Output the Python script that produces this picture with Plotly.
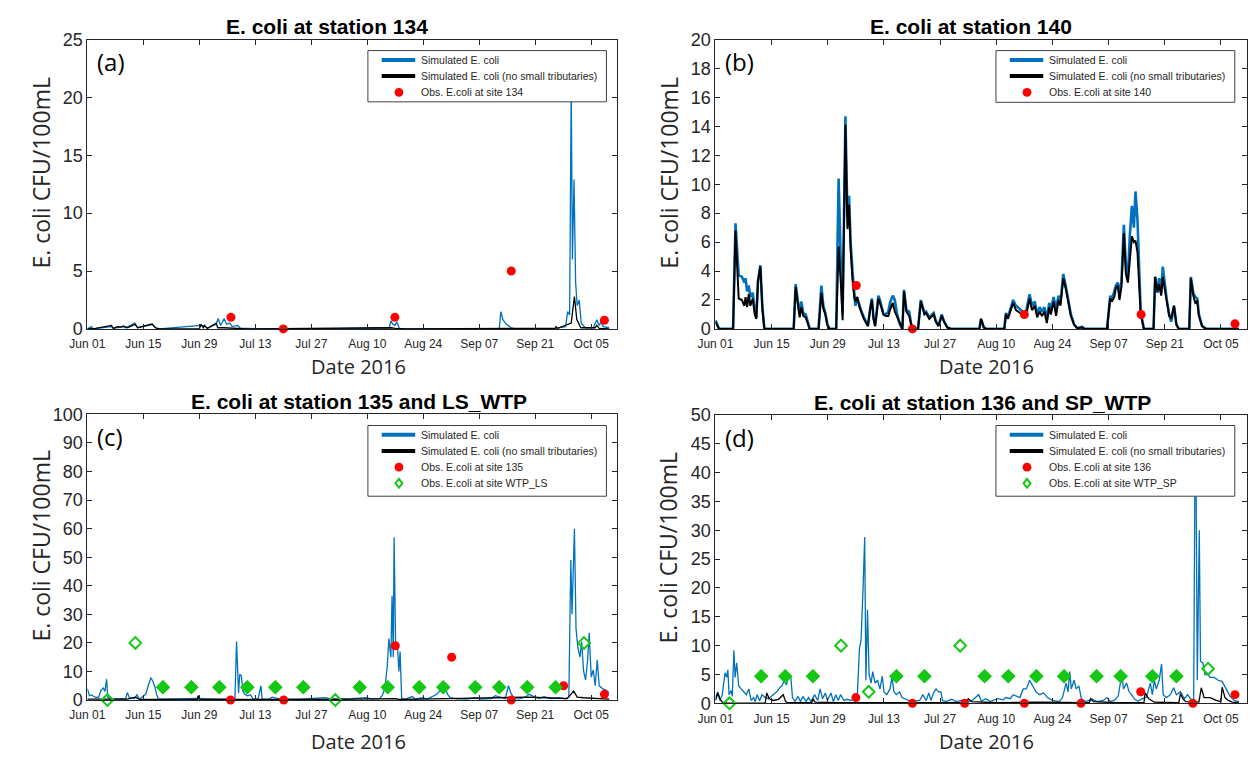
import plotly.graph_objects as go
import pandas as pd

START = "2016-06-01"
W, H = 1253, 763

# ---------------- Panel (a): station 134 ----------------
A_SIM_DAY = [0, 1.0, 1.5, 3.0, 6.0, 6.5, 9.0, 9.5, 11.9, 12.5, 16.2, 17.0, 18.0, 28.4, 29.3, 30.0, 32.2, 32.7,
             33.3, 34.2, 34.8, 35.6, 36.2, 37.6, 38.3, 40.0, 45.0, 60.0, 75.5, 75.9, 76.4, 76.9, 77.4, 78.0,
             80.0, 103.0, 103.4, 103.9, 104.8, 106.0, 107.0, 117.0, 119.6, 120.1, 120.6, 121.0, 121.3, 121.7,
             122.1, 122.5, 123.0, 123.5, 124.5, 126.5, 127.4, 128.0, 128.4, 129.0, 130.5]
A_SIM_VAL = [0, 0.2, 0, 0.05, 0.2, 0.05, 0.2, 0.1, 0.5, 0.1, 0.45, 0.1, 0, 0.3, 0.25, 0.05, 0.4, 0.9,
             0.3, 0.9, 0.4, 0.5, 0.2, 0.3, 0.05, 0.05, 0, 0, 0.1, 0.7, 0.4, 0.3, 0.6, 0.05,
             0, 0, 1.5, 0.8, 0.4, 0.1, 0, 0.05, 0.2, 1.5, 1.2, 21.0, 6.0, 12.9,
             4.0, 2.0, 2.5, 0.5, 0.1, 0.1, 0.8, 0.3, 0.6, 0.2, 0.1]
A_NT_DAY = [0, 2.0, 6.0, 6.5, 7.5, 8.5, 9.0, 10.0, 11.9, 12.6, 16.2, 17.0, 18.0, 28.0, 28.4, 29.0, 29.3, 30.0,
            32.2, 32.6, 34.0, 36.0, 40.0, 76.0, 77.0, 80.0, 117.0, 117.2, 117.6, 121.0, 121.8, 122.4, 123.4,
            127.0, 127.4, 128.0, 130.5]
A_NT_VAL = [0, 0.05, 0.3, 0.05, 0.2, 0.15, 0.25, 0.1, 0.4, 0.1, 0.4, 0.1, 0, 0, 0.4, 0.1, 0.3, 0.05,
            0.5, 0.1, 0.1, 0.05, 0, 0.1, 0.05, 0, 0.05, 0.2, 0.05, 0.5, 2.8, 0.8, 0.1,
            0.1, 0.3, 0.05, 0]
A_OBS_DAY = [35.9, 49.0, 76.9, 106.0, 129.3]
A_OBS_VAL = [1.0, 0.0, 1.0, 5.0, 0.75]

# ---------------- Panel (b): station 140 ----------------
B_DAY = [0, 0.9, 4.4, 5.0, 5.8, 6.6, 7.2, 7.5, 7.9, 8.3, 8.7, 9.3, 9.8, 10.2, 10.6, 11.2, 11.7, 12.2,
         19.5, 20.0, 20.6, 21.0, 21.4, 21.9, 22.5, 23.0, 23.5, 25.7, 26.4, 26.9, 27.4, 27.9, 28.4,
         30.1, 30.7, 31.3, 31.7, 32.4, 32.9, 33.3, 33.7, 34.2, 34.6, 34.9, 35.3, 35.9, 36.4, 37.0, 37.6,
         38.0, 38.6, 39.0, 39.4, 39.8, 40.2, 40.6, 41.0, 41.5, 41.9, 42.4, 43.1, 43.5, 44.2, 44.7, 45.3,
         46.0, 46.6, 47.0, 47.6, 48.3, 48.8, 49.6, 50.5, 51.2, 52.1, 52.5, 53.3, 54.4, 54.9, 55.6, 56.4,
         57.0, 57.8, 58.7, 65.8, 66.2, 66.9, 67.5, 72.0, 72.4, 72.9, 74.2, 74.9, 75.4, 76.3, 76.9, 77.5,
         78.3, 78.9, 79.6, 80.2, 80.8, 81.4, 82.0, 82.6, 83.2, 83.6, 84.3, 84.9, 85.5, 86.0, 86.7, 87.3,
         87.9, 88.6, 89.4, 90.2, 91.4, 92.0, 97.6, 98.4, 98.8, 99.4, 99.8, 100.3, 100.7, 101.2, 101.8,
         102.3, 102.8, 103.3, 103.8, 104.3, 104.7, 105.2, 105.6, 106.0, 106.8, 109.2, 109.6, 110.2,
         110.6, 111.1, 111.5, 112.1, 112.5, 113.1, 113.6, 114.3, 114.9, 115.5, 118.1, 118.5, 119.1,
         119.6, 120.1, 120.5, 121.3, 122.3, 130.5]
B_SIM_VAL = [0.6, 0, 0, 7.3, 3.7, 3.6, 3.2, 3.5, 2.6, 3.0, 2.2, 2.5, 1.3, 0.8, 3.3, 4.4, 1.5, 0,
             0, 3.1, 1.8, 1.0, 1.9, 1.1, 1.0, 0.5, 0, 0, 3.0, 1.6, 1.1, 0.3, 0,
             0, 10.4, 4.0, 1.0, 14.7, 7.7, 9.2, 6.0, 3.8, 2.5, 1.6, 2.2, 1.6, 1.2, 0.8, 0.4,
             0.2, 1.5, 2.1, 0.8, 0.2, 1.2, 2.3, 2.0, 1.5, 1.0, 1.0, 1.2, 1.8, 2.3, 2.0, 1.0,
             0.3, 0, 2.7, 1.3, 1.2, 0.3, 0, 0, 2.0, 1.1, 1.2, 0.8, 1.1, 0.6, 0.2, 1.0,
             0.5, 0.1, 0, 0, 0.7, 0.1, 0, 0, 1.1, 0.8, 2.0, 1.6, 1.5, 1.3, 1.1, 1.3,
             2.4, 1.6, 1.9, 1.0, 1.5, 1.2, 1.5, 0.7, 1.8, 1.3, 2.2, 1.3, 2.3, 1.8, 3.8, 3.0,
             2.0, 1.0, 0.3, 0.05, 0.15, 0, 0, 2.3, 2.0, 2.7, 3.0, 3.2, 2.4, 3.3, 7.2,
             4.5, 3.5, 6.5, 8.5, 7.0, 9.5, 7.5, 4.5, 1.2, 0, 0, 3.6, 2.5,
             3.5, 2.5, 4.3, 2.8, 2.0, 1.0, 0.5, 1.6, 0.3, 0, 0, 3.6, 2.5,
             2.2, 2.1, 1.0, 0.2, 0, 0]
B_NT_VAL = [0.5, 0, 0, 6.8, 2.1, 2.0, 1.6, 2.2, 1.5, 2.4, 1.6, 2.1, 1.0, 0.7, 3.3, 4.3, 1.4, 0,
            0, 2.9, 1.6, 0.8, 1.5, 0.9, 0.8, 0.4, 0, 0, 2.5, 1.4, 1.0, 0.3, 0,
            0, 5.7, 3.0, 0.6, 14.1, 6.9, 8.6, 5.5, 3.3, 2.2, 1.9, 2.2, 1.5, 1.1, 0.7, 0.4,
            0.2, 1.4, 2.0, 0.7, 0.2, 1.1, 2.1, 1.8, 1.3, 1.0, 0.9, 0.9, 1.3, 1.8, 1.2, 0.8,
            0.3, 0, 2.6, 1.2, 0.9, 0.3, 0, 0, 1.9, 1.0, 1.1, 0.7, 1.0, 0.5, 0.2, 0.9,
            0.5, 0.1, 0, 0, 0.7, 0.1, 0, 0, 1.0, 0.7, 1.8, 1.3, 1.2, 1.0, 0.9, 1.0,
            2.1, 1.3, 1.6, 0.8, 1.2, 0.9, 1.2, 0.4, 1.5, 1.0, 1.9, 0.9, 2.0, 1.6, 3.5, 2.8,
            1.8, 0.9, 0.3, 0.05, 0.1, 0, 0, 2.1, 1.9, 2.2, 2.8, 3.0, 2.0, 2.9, 6.6,
            3.8, 3.2, 5.0, 6.4, 6.0, 6.1, 5.3, 3.4, 1.0, 0, 0, 3.6, 2.6,
            3.1, 2.3, 3.6, 2.6, 1.8, 0.9, 0.7, 1.6, 0.3, 0, 0, 3.5, 2.3,
            1.8, 1.9, 0.9, 0.2, 0, 0]
B_OBS_DAY = [35.1, 49.1, 77.0, 106.1, 129.5]
B_OBS_VAL = [3.0, 0.0, 1.0, 1.0, 0.35]

# ---------------- Panel (c): station 135 and LS_WTP ----------------
C_SIM_DAY = [0, 0.5, 1.1, 1.9, 2.8, 3.4, 4.0, 4.4, 4.8, 5.1, 5.6, 6.9, 8.5, 9.5, 10.0, 10.5, 11.8, 12.4, 13.0,
             13.8, 14.6, 15.2, 15.9, 16.4, 16.9, 17.3, 17.7, 18.3, 20.8, 22.4, 24.9, 27.7, 30.6, 33.1, 35.6,
             36.9, 37.3, 37.8, 38.1, 38.5, 38.9, 39.4, 40.0, 40.8, 41.5, 42.7, 43.4, 43.7, 45.4, 46.2, 47.8,
             49.5, 53.0, 56.0, 59.6, 61.0, 63.7, 66.0, 69.8, 71.0, 73.1, 73.7, 74.4, 75.0, 75.4, 75.9, 76.2,
             76.5, 76.7, 77.1, 77.5, 77.9, 78.2, 78.6, 79.5, 81.3, 82.0, 83.8, 85.0, 87.4, 88.3, 88.9, 89.5,
             90.1, 90.7, 92.4, 94.8, 96.9, 98.5, 101.0, 102.0, 103.0, 104.5, 105.3, 105.9, 106.7, 108.0,
             109.5, 110.5, 111.9, 113.0, 114.2, 116.0, 118.0, 119.5, 120.4, 120.9, 121.2, 121.5, 121.8,
             122.2, 122.7, 123.2, 123.6, 124.1, 124.6, 125.1, 125.5, 126.0, 126.5, 127.0, 127.5, 128.0,
             128.8, 129.7, 130.5]
C_SIM_VAL = [4.0, 1.5, 1.8, 1.0, 0.9, 3.5, 4.2, 3.0, 7.3, 1.0, 0.5, 0.3, 0.5, 0.3, 2.6, 0.8, 0.5, 1.8, 0.3,
             1.2, 2.0, 5.0, 7.8, 6.5, 4.5, 2.0, 0.5, 0.3, 0.4, 0.6, 0.5, 0.6, 0.4, 0.3, 0.5,
             0.5, 20.5, 2.5, 9.0, 8.5, 3.0, 2.0, 1.5, 1.8, 0.3, 0.5, 5.0, 0.3, 0.3, 1.0, 0.5,
             0.3, 0.3, 0.5, 0.8, 0.3, 0.3, 0.5, 0.8, 0.3, 0.5, 1.5, 4.0, 12.0, 21.5, 15.0, 36.5,
             15.0, 57.0, 18.0, 20.0, 10.0, 17.0, 0.5, 0.3, 1.2, 0.3, 0.8, 0.3, 2.0, 3.5, 2.5, 4.0,
             2.0, 0.8, 0.4, 0.3, 0.8, 0.3, 0.5, 1.5, 1.0, 0.5, 5.0, 2.5, 0.5, 0.4,
             1.0, 2.0, 1.0, 0.5, 1.2, 0.5, 0.8, 0.5, 1.0, 49.0, 30.0, 50.0, 60.0,
             25.0, 18.0, 15.0, 20.5, 10.0, 7.0, 14.0, 23.5, 8.0, 10.5, 5.0, 14.0, 5.0,
             4.0, 3.5, 2.5]
C_NT_DAY = [0, 5.0, 10.0, 12.0, 13.0, 20.0, 27.5, 27.7, 28.0, 40.0, 60.0, 77.0, 78.0, 90.0, 106.0, 110.0,
            115.0, 120.0, 121.6, 122.5, 124.0, 127.0, 130.5]
C_NT_VAL = [0.3, 0.2, 0.3, 1.0, 0.2, 0.2, 0.2, 1.5, 0.2, 0.2, 0.2, 0.5, 0.2, 0.5, 0.8, 1.0,
            0.8, 0.5, 3.1, 1.0, 0.8, 0.5, 0.3]
C_OBS_DAY = [35.8, 49.1, 77.0, 91.1, 106.0, 119.1, 129.3]
C_OBS_VAL = [0.0, 0.0, 19.0, 15.0, 0.0, 5.0, 2.0]
C_WTP_DAY = [5.0, 12.0, 18.9, 26.0, 33.0, 40.0, 47.0, 54.0, 62.0, 68.1, 75.1, 83.0, 89.0, 97.0, 103.0,
             110.0, 117.1, 124.2]
C_WTP_VAL = [0, 20, 4.5, 4.5, 4.5, 4.5, 4.5, 4.5, 0, 4.5, 4.5, 4.5, 4.5, 4.5, 4.5, 4.5, 4.5, 20]

# ---------------- Panel (d): station 136 and SP_WTP ----------------
D_SIM_DAY = [0, 0.6, 1.1, 1.7, 2.4, 2.8, 3.1, 3.4, 3.9, 4.2, 4.6, 4.9, 5.3, 5.8, 6.4, 7.1, 7.7, 8.3, 8.9,
             9.5, 9.9, 10.4, 11.0, 11.6, 12.4, 13.2, 14.4, 15.3, 16.1, 16.6, 17.1, 17.7, 18.3, 18.8, 19.2,
             19.8, 20.6, 21.2, 21.8, 22.6, 23.2, 23.8, 24.7, 25.5, 26.1, 26.7, 27.4, 27.9, 28.8, 29.4, 30.0,
             30.6, 31.2, 32.0, 32.9, 33.7, 34.5, 35.3, 35.9, 36.3, 36.8, 37.2, 37.5, 37.9, 38.3, 38.8, 39.2,
             39.8, 40.4, 41.0, 41.6, 42.0, 42.7, 43.5, 44.0, 44.5, 45.1, 45.9, 46.5, 47.2, 48.0, 48.8, 50.9,
             51.7, 52.5, 53.2, 53.7, 54.3, 55.0, 55.6, 56.2, 56.6, 57.4, 58.9, 59.9, 61.5, 62.8, 64.0, 65.6,
             66.3, 67.4, 68.5, 70.4, 71.8, 72.3, 73.5, 74.2, 75.0, 75.9, 76.7, 77.5, 78.3, 79.1, 79.9, 80.8,
             81.8, 82.8, 84.0, 85.7, 86.5, 87.4, 87.9, 88.3, 88.7, 89.4, 89.9, 90.6, 91.2, 92.2, 93.9, 95.1,
             96.7, 97.6, 98.4, 99.6, 100.4, 101.3, 101.7, 102.5, 103.1, 103.7, 104.5, 105.3, 106.4, 107.4,
             108.4, 108.9, 109.4, 109.9, 110.6, 111.2, 111.6, 112.4, 113.4, 114.2, 114.9, 115.9, 116.9,
             117.7, 118.4, 119.2, 119.5, 119.8, 120.1, 120.6, 120.9, 121.5, 122.0, 122.8, 123.3, 124.3,
             125.3, 126.3, 126.8, 127.3, 128.3, 129.3, 130.5]
D_SIM_VAL = [1.0, 2.0, 0.5, 1.5, 5.3, 4.5, 5.8, 1.5, 2.2, 1.2, 9.2, 4.5, 7.0, 3.0, 2.5, 2.0, 1.5, 2.5, 0.5,
             1.0, 0.3, 1.5, 0.4, 1.5, 1.0, 0.8, 1.5, 2.0, 2.8, 3.0, 4.0, 3.2, 5.0, 4.5, 1.0,
             0.3, 1.2, 0.3, 1.2, 0.3, 1.0, 0.3, 1.5, 0.5, 2.5, 0.8, 1.8, 0.5, 1.8, 0.3, 1.5,
             0.5, 1.5, 0.5, 0.7, 0.5, 0.8, 0.5, 9.5, 11.0, 20.0, 28.8, 4.0, 16.2, 5.0, 3.5, 5.5,
             3.5, 4.0, 2.5, 4.7, 2.0, 1.5, 2.5, 4.5, 2.0, 1.5, 2.0, 1.0, 0.8, 0.5, 0.3, 0.5,
             1.5, 0.5, 1.8, 0.5, 1.7, 2.5, 2.0, 2.0, 0.5, 0.3, 0.7, 0.3, 0.5, 0.3, 0.5, 1.5,
             0.4, 0.8, 0.3, 0.8, 0.6, 1.0, 0.8, 1.5, 1.2, 1.0, 2.5, 2.5, 4.0, 3.0, 2.0, 1.5,
             1.8, 1.0, 0.5, 0.3, 1.0, 3.5, 2.0, 5.5, 2.5, 4.0, 2.5, 3.0, 0.8, 0.3, 0.7, 0.3,
             0.5, 1.0, 0.3, 0.6, 1.3, 5.0, 2.5, 3.5, 2.0, 1.5, 0.7, 0.4, 0.8, 1.0,
             3.5, 1.5, 4.0, 2.5, 4.0, 6.8, 1.5, 1.0, 1.5, 2.7, 1.5, 2.0, 0.8,
             1.5, 0.8, 0.5, 38.0, 38.5, 4.0, 30.0, 7.3, 7.0, 5.0, 5.0, 4.5, 4.5,
             4.0, 3.8, 3.0, 2.5, 1.2, 0.5, 0.3]
D_NT_DAY = [0, 0.6, 1.1, 1.7, 3.0, 12.4, 12.8, 13.4, 14.4, 15.7, 16.9, 17.5, 18.1, 24.0, 24.3, 24.8, 30.0,
            40.0, 50.0, 62.5, 63.0, 63.8, 70.0, 80.0, 93.2, 93.5, 94.2, 100.0, 106.8, 107.1, 108.0, 109.4,
            115.5, 115.9, 116.5, 117.2, 120.5, 121.1, 121.8, 123.3, 124.8, 126.0, 126.3, 127.0, 127.8,
            128.8, 130.5]
D_NT_VAL = [0.5, 1.8, 0.8, 0.2, 0.05, 0.05, 1.8, 0.8, 0.5, 0.7, 1.5, 0.3, 0.1, 0.1, 0.8, 0.2, 0.1,
            0.1, 0.1, 0.1, 0.8, 0.3, 0.1, 0.2, 0.1, 0.8, 0.3, 0.1, 0.1, 1.8, 0.8, 0.2,
            0.1, 1.7, 0.8, 0.3, 0.2, 2.7, 1.0, 1.0, 0.5, 0.3, 2.8, 1.0, 0.5,
            0.2, 0.1]
D_OBS_DAY = [35.0, 49.1, 62.1, 77.0, 91.1, 106.0, 119.0, 129.5]
D_OBS_VAL = [1.0, 0.0, 0.0, 0.0, 0.0, 2.0, 0.0, 1.5]
D_WTP_DAY = [3.5, 11.4, 17.4, 24.3, 31.3, 38.2, 45.1, 52.1, 61.0, 67.1, 73.0, 80.0, 86.9, 95.0, 101.0,
             108.9, 114.9, 122.8]
D_WTP_VAL = [0, 4.7, 4.7, 4.7, 10, 2.0, 4.7, 4.7, 10, 4.7, 4.7, 4.7, 4.7, 4.7, 4.7, 4.7, 4.7, 6.0]

TITLES = ["E. coli at station 134", "E. coli at station 140",
          "E. coli at station 135 and LS_WTP", "E. coli at station 136 and SP_WTP"]
PANEL_TAGS = ["(a)", "(b)", "(c)", "(d)"]
Y_MAX = [25, 20, 100, 50]
Y_STEP = [5, 2, 10, 5]
OBS_NAMES = ["Obs. E.coli at site 134", "Obs. E.coli at site 140",
             "Obs. E.coli at site 135", "Obs. E.coli at site 136"]
WTP_NAMES = [None, None, "Obs. E.coli at site WTP_LS", "Obs. E.coli at site WTP_SP"]
SIM_NAME = "Simulated E. coli"
NT_NAME = "Simulated E. coli (no small tributaries)"
X_LABEL = "Date 2016"
Y_LABEL = "E. coli CFU/100mL"

BLUE = "#0072BD"
BLACK = "#000000"
RED = "#FF0000"
GREEN = "#14C814"
AXC = "#262626"
FONT = "Liberation Sans, Arial"


def dates(days):
    return [pd.Timestamp(START) + pd.to_timedelta(d, unit="D") for d in days]


def px(x):
    return x / W


def py(y):
    return 1 - y / H


panels = [
    dict(sim=(A_SIM_DAY, A_SIM_VAL), nt=(A_NT_DAY, A_NT_VAL), obs=(A_OBS_DAY, A_OBS_VAL), wtp=None, lw=1.3, nlw=1.3),
    dict(sim=(B_DAY, B_SIM_VAL), nt=(B_DAY, B_NT_VAL), obs=(B_OBS_DAY, B_OBS_VAL), wtp=None, lw=2.6, nlw=2.0),
    dict(sim=(C_SIM_DAY, C_SIM_VAL), nt=(C_NT_DAY, C_NT_VAL), obs=(C_OBS_DAY, C_OBS_VAL), wtp=(C_WTP_DAY, C_WTP_VAL), lw=1.3, nlw=1.3),
    dict(sim=(D_SIM_DAY, D_SIM_VAL), nt=(D_NT_DAY, D_NT_VAL), obs=(D_OBS_DAY, D_OBS_VAL), wtp=(D_WTP_DAY, D_WTP_VAL), lw=1.3, nlw=1.3),
]

# pixel geometry of the axes boxes (left, right, top, bottom)
BOXES = [(70.4, 607.6, 30.3, 327.5), (707.6, 1246.6, 30.3, 327.5),
         (70.4, 607.6, 415.3, 708.6), (707.6, 1246.6, 415.7, 712.0)]
# legend boxes (left, right, top, bottom)
LEG_BOX = [(355, 597, 41.7, 94.3), (992.2, 1234.5, 41.7, 94.8),
           (355, 597, 426.7, 499.3), (992.2, 1234.5, 426.7, 499.3)]
TITLE_X = [313, 967, 346, 979]
XLAB_Y = [366, 366, 751.5, 751.5]

fig = go.Figure()
layout = dict(width=W, height=H, margin=dict(l=0, r=0, t=0, b=0),
              paper_bgcolor="white", plot_bgcolor="white", showlegend=False,
              font=dict(family=FONT, color=AXC))
annotations = []
shapes = []

for i, p in enumerate(panels):
    n = i + 1
    xa = "x" if n == 1 else f"x{n}"
    ya = "y" if n == 1 else f"y{n}"
    fig.add_trace(go.Scatter(x=dates(p["sim"][0]), y=p["sim"][1], mode="lines", name=SIM_NAME,
                             line=dict(color=BLUE, width=p["lw"]), xaxis=xa, yaxis=ya,
                             hoverinfo="skip"))
    fig.add_trace(go.Scatter(x=dates(p["nt"][0]), y=p["nt"][1], mode="lines", name=NT_NAME,
                             line=dict(color=BLACK, width=p["nlw"]), xaxis=xa, yaxis=ya,
                             hoverinfo="skip"))
    fig.add_trace(go.Scatter(x=dates(p["obs"][0]), y=p["obs"][1], mode="markers", name=OBS_NAMES[i],
                             marker=dict(color=RED, size=9), xaxis=xa, yaxis=ya, cliponaxis=False))
    if p["wtp"] is not None:
        wd, wv = p["wtp"]
        fig.add_trace(go.Scatter(x=dates(wd), y=wv, mode="markers", name=WTP_NAMES[i],
                                 marker=dict(symbol="diamond-open", color=GREEN, size=9,
                                             line=dict(width=2, color=GREEN)),
                                 xaxis=xa, yaxis=ya, cliponaxis=False))
        fd = [d for d, v in zip(wd, wv) if 4 <= v < 5]
        fv = [v for v in wv if 4 <= v < 5]
        fig.add_trace(go.Scatter(x=dates(fd), y=fv, mode="markers", name=WTP_NAMES[i],
                                 marker=dict(symbol="diamond", color=GREEN, size=9,
                                             line=dict(width=1.5, color=GREEN)),
                                 xaxis=xa, yaxis=ya, cliponaxis=False))

    l, r, t, b = BOXES[i]
    xkey = "xaxis" if n == 1 else f"xaxis{n}"
    ykey = "yaxis" if n == 1 else f"yaxis{n}"
    layout[xkey] = dict(domain=[px(l), px(r)], anchor=ya, type="date",
                        range=["2016-06-01", "2016-10-11 10:00"],
                        tick0=START, dtick=14 * 86400000, tickformat="%b %d",
                        ticks="inside", ticklen=5, tickcolor=AXC, showline=True, linecolor=AXC,
                        linewidth=1, mirror="ticks", showgrid=False, zeroline=False,
                        ticklabelstandoff=4,
                        tickfont=dict(size=12, color=AXC, family=FONT))
    layout[ykey] = dict(domain=[py(b), py(t)], anchor=xa, range=[0, Y_MAX[i]],
                        dtick=Y_STEP[i], tick0=0,
                        ticks="inside", ticklen=5, tickcolor=AXC, showline=True, linecolor=AXC,
                        linewidth=1, mirror="ticks", showgrid=False, zeroline=False,
                        tickfont=dict(size=18, color=AXC, family=FONT))

    # ---- legend box drawn on top of the data ----
    bl, br, bt, bb = LEG_BOX[i]
    shapes.append(dict(type="rect", xref="paper", yref="paper", x0=px(bl), x1=px(br), y0=py(bb), y1=py(bt),
                       fillcolor="white", line=dict(color="#404040", width=1), layer="above"))
    names = [SIM_NAME, NT_NAME, OBS_NAMES[i]] + ([WTP_NAMES[i]] if WTP_NAMES[i] else [])
    for k, name in enumerate(names):
        ry = bt + 9.6 + 16.6 * k
        if k < 2:
            shapes.append(dict(type="line", xref="paper", yref="paper", x0=px(bl + 14), x1=px(bl + 48),
                               y0=py(ry), y1=py(ry), line=dict(color=BLUE if k == 0 else BLACK, width=4),
                               layer="above"))
        elif k == 2:
            cx = bl + 31.5
            shapes.append(dict(type="circle", xref="paper", yref="paper", x0=px(cx - 4.5), x1=px(cx + 4.5),
                               y0=py(ry + 4.5), y1=py(ry - 4.5), fillcolor=RED, line=dict(color=RED, width=0),
                               layer="above"))
        else:
            cx = bl + 31.5
            path = (f"M {px(cx)},{py(ry - 4.5)} L {px(cx + 3.5)},{py(ry)} "
                    f"L {px(cx)},{py(ry + 4.5)} L {px(cx - 3.5)},{py(ry)} Z")
            shapes.append(dict(type="path", xref="paper", yref="paper", path=path, fillcolor="white",
                               line=dict(color=GREEN, width=2), layer="above"))
        annotations.append(dict(text=name, x=px(bl + 51.5), y=py(ry), xref="paper", yref="paper",
                                showarrow=False, xanchor="left", yanchor="middle",
                                font=dict(size=10.5, color=AXC, family=FONT)))

    cxp = (l + r) / 2
    annotations.append(dict(text=f"<b>{TITLES[i]}</b>", x=px(TITLE_X[i]), y=py(t - 13),
                            xref="paper", yref="paper", showarrow=False, xanchor="center",
                            yanchor="middle", font=dict(size=21, color="#000000", family=FONT)))
    annotations.append(dict(text=PANEL_TAGS[i], x=px(l + 8), y=py(t + 23),
                            xref="paper", yref="paper", showarrow=False, xanchor="left",
                            yanchor="middle", font=dict(size=24, color="#000000", family="Open Sans")))
    annotations.append(dict(text=X_LABEL, x=px(cxp + 6), y=py(XLAB_Y[i]),
                            xref="paper", yref="paper", showarrow=False, xanchor="center",
                            yanchor="middle", font=dict(size=20, color=AXC, family="Open Sans")))
    annotations.append(dict(text=Y_LABEL, x=px(l - 48), y=py((t + b) / 2 - 12),
                            xref="paper", yref="paper", showarrow=False, xanchor="center",
                            yanchor="middle", textangle=-90,
                            font=dict(size=23, color=AXC, family="Open Sans")))

layout["annotations"] = annotations
layout["shapes"] = shapes
fig.update_layout(**layout)
fig.write_html("out.html")
